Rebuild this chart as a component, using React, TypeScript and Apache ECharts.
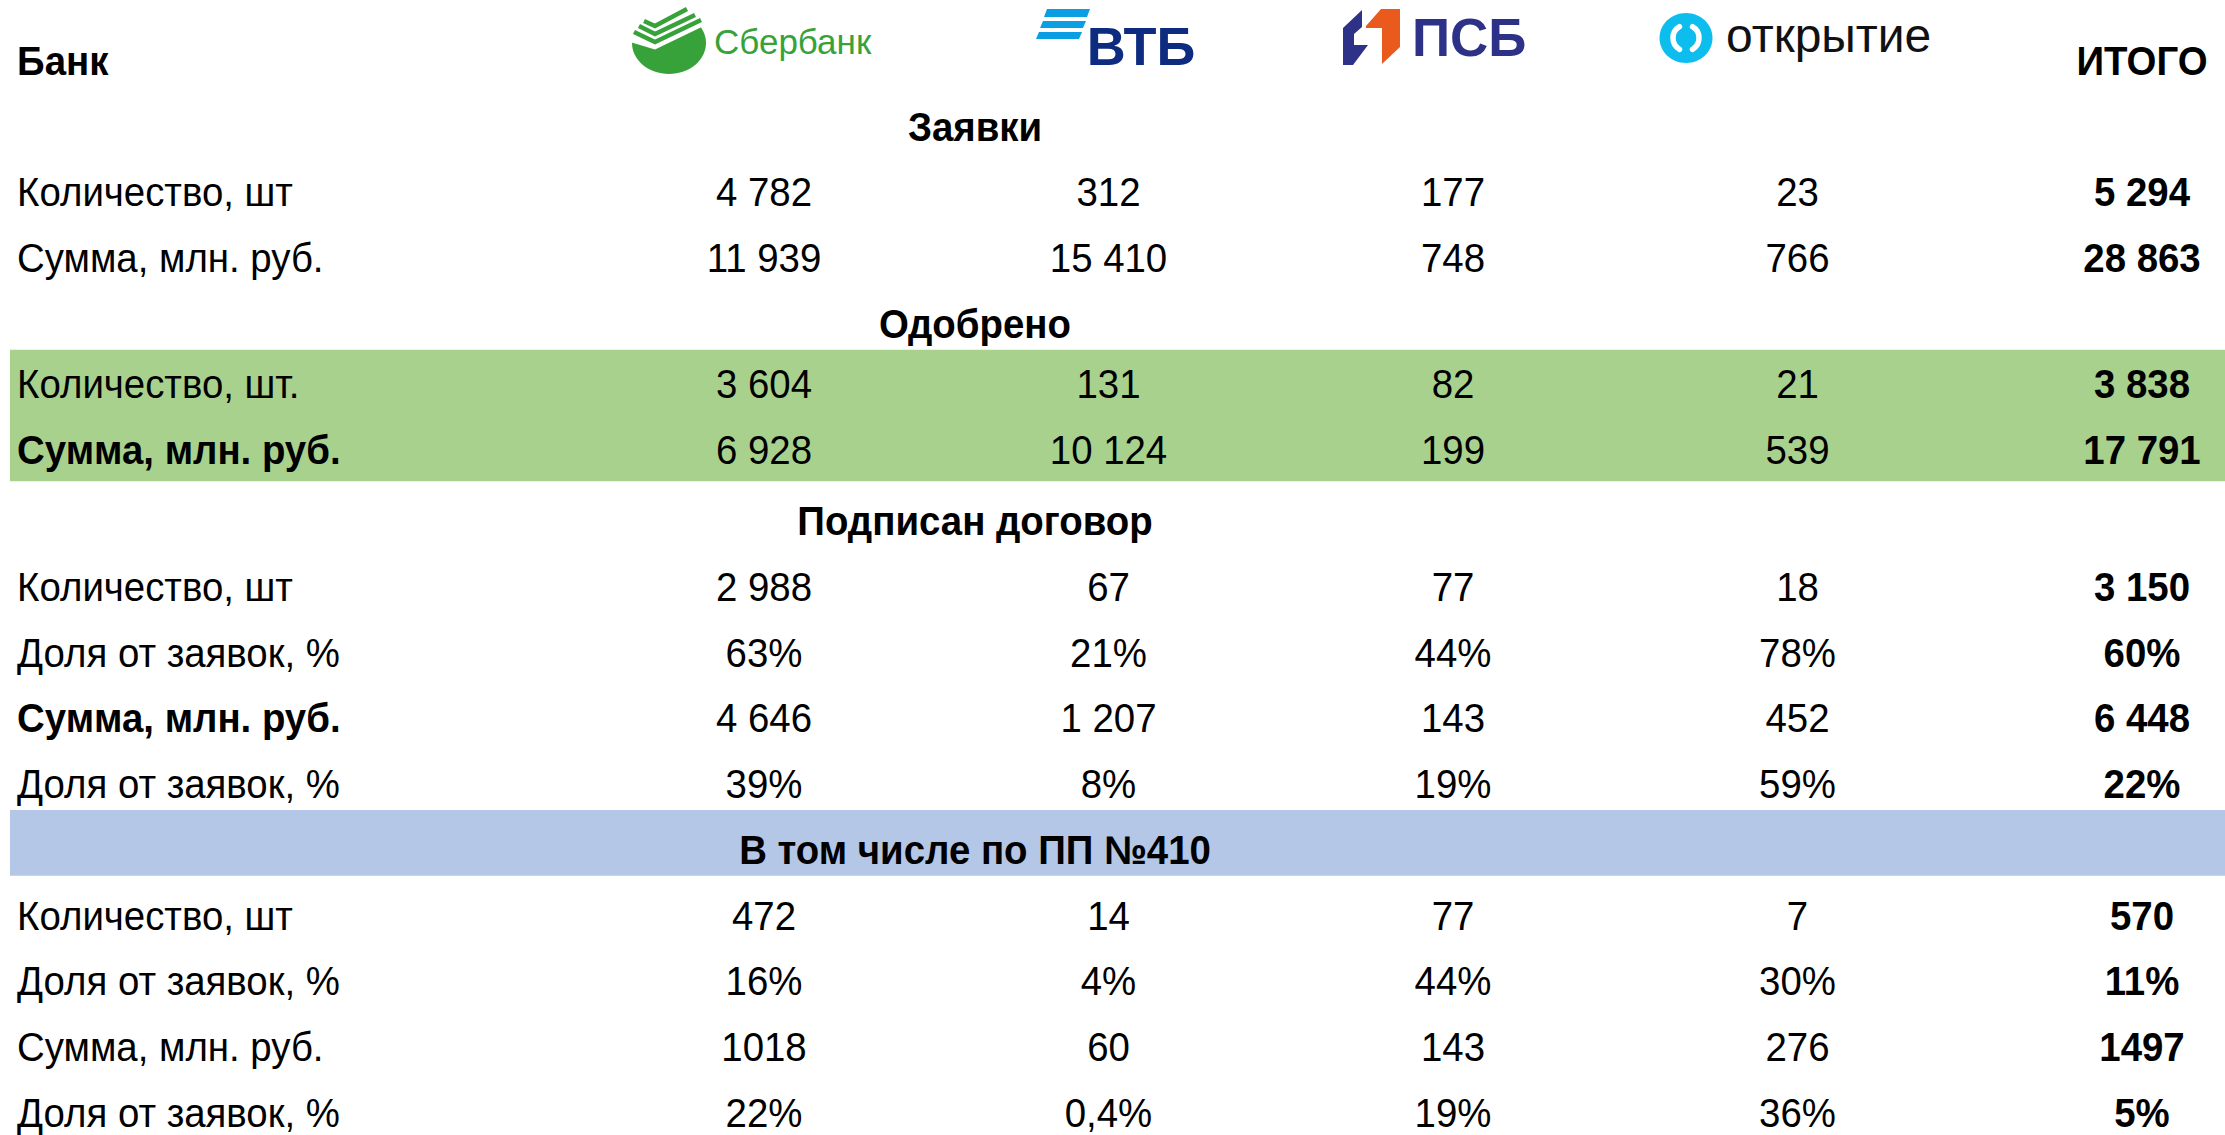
import React, { useEffect, useRef } from "react";
import * as echarts from "echarts";

// ---------- DATA ----------
const bankNames = ["Сбербанк", "ВТБ", "ПСБ", "открытие"];
const headerLabel = "Банк";
const totalLabel = "ИТОГО";
const sections = ["Заявки", "Одобрено", "Подписан договор", "В том числе по ПП №410"];

const labelCount = "Количество, шт";
const labelCountDot = "Количество, шт.";
const labelSum = "Сумма, млн. руб.";
const labelShare = "Доля от заявок, %";

// columns: Сбербанк, ВТБ, ПСБ, Открытие, ИТОГО
const zayavkiCount = [4782, 312, 177, 23, 5294];
const zayavkiSum = [11939, 15410, 748, 766, 28863];
const odobrenoCount = [3604, 131, 82, 21, 3838];
const odobrenoSum = [6928, 10124, 199, 539, 17791];
const dogovorCount = [2988, 67, 77, 18, 3150];
const dogovorCountShare = [63, 21, 44, 78, 60];
const dogovorSum = [4646, 1207, 143, 452, 6448];
const dogovorSumShare = [39, 8, 19, 59, 22];
const pp410Count = [472, 14, 77, 7, 570];
const pp410CountShare = [16, 4, 44, 30, 11];
const pp410Sum = [1018, 60, 143, 276, 1497];
const pp410SumShare = [22, 0.4, 19, 36, 5];

// ---------- helpers ----------
const fmtGroup = (v: number) => String(v).replace(/\B(?=(\d{3})+(?!\d))/g, " ");
const fmtPlain = (v: number) => String(v);
const fmtPct = (v: number) => String(v).replace(".", ",") + "%";

type Row =
  | { kind: "header" }
  | { kind: "section"; text: string; band?: string }
  | { kind: "data"; label: string; bold?: boolean; values: number[]; fmt: (v: number) => string; band?: string };

const GREEN = "#A9D18E";
const BLUE = "#B4C7E7";

const rows: Row[] = [
  { kind: "header" },
  { kind: "section", text: sections[0] },
  { kind: "data", label: labelCount, values: zayavkiCount, fmt: fmtGroup },
  { kind: "data", label: labelSum, values: zayavkiSum, fmt: fmtGroup },
  { kind: "section", text: sections[1] },
  { kind: "data", label: labelCountDot, values: odobrenoCount, fmt: fmtGroup, band: GREEN },
  { kind: "data", label: labelSum, bold: true, values: odobrenoSum, fmt: fmtGroup, band: GREEN },
  { kind: "section", text: sections[2] },
  { kind: "data", label: labelCount, values: dogovorCount, fmt: fmtGroup },
  { kind: "data", label: labelShare, values: dogovorCountShare, fmt: fmtPct },
  { kind: "data", label: labelSum, bold: true, values: dogovorSum, fmt: fmtGroup },
  { kind: "data", label: labelShare, values: dogovorSumShare, fmt: fmtPct },
  { kind: "section", text: sections[3], band: BLUE },
  { kind: "data", label: labelCount, values: pp410Count, fmt: fmtGroup },
  { kind: "data", label: labelShare, values: pp410CountShare, fmt: fmtPct },
  { kind: "data", label: labelSum, values: pp410Sum, fmt: fmtPlain },
  { kind: "data", label: labelShare, values: pp410SumShare, fmt: fmtPct },
];

const LABEL_X = -2.168;
const TITLE_X = 0.6125;
const BAND_ROW_SHIFT = -0.08;

type Cell = { x: number; y: number; text: string; bold: boolean; align: string };

function buildCells(): Cell[] {
  const cells: Cell[] = [];
  rows.forEach((r, i) => {
    if (r.kind === "header") {
      cells.push({ x: LABEL_X, y: i, text: headerLabel, bold: true, align: "left" });
      cells.push({ x: 4, y: i, text: totalLabel, bold: true, align: "center" });
    } else if (r.kind === "section") {
      cells.push({ x: TITLE_X, y: i, text: r.text, bold: true, align: "center" });
    } else {
      const yy = r.band ? i + BAND_ROW_SHIFT : i;
      cells.push({ x: LABEL_X, y: yy, text: r.label, bold: !!r.bold, align: "left" });
      r.values.forEach((v, c) => {
        cells.push({ x: c, y: yy, text: r.fmt(v), bold: c === 4, align: "center" });
      });
    }
  });
  return cells;
}

function buildBands() {
  const bands: { from: number; to: number; color: string }[] = [];
  rows.forEach((r, i) => {
    const band = (r as any).band;
    if (!band) return;
    const last = bands[bands.length - 1];
    if (last && last.color === band && last.to === i - 1) last.to = i;
    else bands.push({ from: i, to: i, color: band });
  });
  return bands;
}

const FONT = "'Liberation Sans', Arial, sans-serif";

function logos(): any[] {
  const sberGreen = "#38A23A";
  const vtbLight = "#0A9FE2";
  const vtbNavy = "#0D2C80";
  const psbNavy = "#2E3188";
  const psbOrange = "#EA5A1C";
  const otkr = "#0CBDEE";
  const el: any[] = [];
  // Sber
  el.push({ type: "ellipse", shape: { cx: 669, cy: 43, rx: 37, ry: 31 }, style: { fill: sberGreen } });
  el.push({
    type: "polygon",
    shape: { points: [[620, 0], [620, 39], [655, 49.5], [712, 22], [712, 0]] },
    style: { fill: "#fff" },
  });
  const stripes = [
    [[644, 21], [655, 26], [687, 9]],
    [[639, 26], [655, 34], [695, 15]],
    [[634, 32], [655, 42], [701, 20]],
  ];
  stripes.forEach((p) =>
    el.push({ type: "polyline", shape: { points: p }, style: { stroke: sberGreen, lineWidth: 4.5, fill: "none" } })
  );
  el.push({
    type: "text",
    x: 714,
    y: 41,
    style: { text: bankNames[0], font: `35px ${FONT}`, fill: sberGreen, align: "left", verticalAlign: "middle" },
  });
  // VTB
  const vs = [
    [1044, 9, 1087, 17],
    [1040, 21, 1083, 28],
    [1036, 32, 1079, 39],
  ];
  vs.forEach(([x0, y0, x1, y1]) =>
    el.push({
      type: "polygon",
      shape: { points: [[x0 + 3, y0], [x1 + 3, y0], [x1, y1], [x0, y1]] },
      style: { fill: vtbLight },
    })
  );
  el.push({
    type: "text",
    x: 1141,
    y: 45.5,
    style: { text: bankNames[1], font: `bold 54px ${FONT}`, fill: vtbNavy, align: "center", verticalAlign: "middle" },
  });
  // PSB
  el.push({
    type: "polygon",
    shape: { points: [[1343, 28], [1362, 10], [1362, 27], [1354, 34], [1354, 45], [1368, 45], [1353, 65], [1343, 65]] },
    style: { fill: psbNavy },
  });
  el.push({
    type: "polygon",
    shape: { points: [[1366, 26], [1381, 9], [1400, 9], [1400, 47], [1382, 64], [1382, 28], [1366, 28]] },
    style: { fill: psbOrange },
  });
  el.push({
    type: "text",
    x: 1412,
    y: 37,
    style: { text: bankNames[2], font: `bold 53px ${FONT}`, fill: psbNavy, align: "left", verticalAlign: "middle" },
  });
  // Otkritie
  el.push({ type: "ellipse", shape: { cx: 1686, cy: 38, rx: 26.5, ry: 25 }, style: { fill: otkr } });
  el.push({
    type: "arc",
    shape: { cx: 1686, cy: 38, r: 13, startAngle: -Math.PI / 3, endAngle: Math.PI / 3, clockwise: true },
    style: { stroke: "#fff", lineWidth: 5.5, lineCap: "round", fill: "none" },
  });
  el.push({
    type: "arc",
    shape: { cx: 1686, cy: 38, r: 13, startAngle: (2 * Math.PI) / 3, endAngle: (4 * Math.PI) / 3, clockwise: true },
    style: { stroke: "#fff", lineWidth: 5.5, lineCap: "round", fill: "none" },
  });
  el.push({
    type: "text",
    x: 1726,
    y: 35.5,
    style: { text: bankNames[3], font: `48px ${FONT}`, fill: "#111", align: "left", verticalAlign: "middle" },
  });
  return el;
}

export default function App() {
  const ref = useRef<HTMLDivElement>(null);
  useEffect(() => {
    document.body.style.margin = "0";
    document.body.style.overflow = "hidden";
    if (!ref.current) return;
    const chart = echarts.init(ref.current, undefined, { renderer: "svg" });
    const cells = buildCells();
    const bands = buildBands();
    chart.setOption({
      animation: false,
      backgroundColor: "#ffffff",
      grid: { left: 764, right: 83, top: 61, bottom: 22 },
      xAxis: { type: "value", min: 0, max: 4, show: false },
      yAxis: { type: "value", min: 0, max: 16, inverse: true, show: false },
      graphic: logos(),
      series: [
        {
          type: "custom",
          z: 1,
          clip: false,
          data: bands.map((b) => [b.from, b.to]),
          renderItem: (params: any, api: any) => {
            const b = bands[params.dataIndex];
            const top = api.coord([0, api.value(0) - 0.61])[1];
            const bottom = api.coord([0, api.value(1) + 0.39])[1];
            return {
              type: "rect",
              shape: { x: 10, y: top, width: 2225 - 10, height: bottom - top },
              style: { fill: b.color },
            };
          },
        },
        {
          type: "custom",
          z: 2,
          clip: false,
          data: cells.map((c) => [c.x, c.y]),
          renderItem: (params: any, api: any) => {
            const c = cells[params.dataIndex];
            const p = api.coord([api.value(0), api.value(1)]);
            return {
              type: "text",
              x: p[0],
              y: p[1],
              scaleX: 0.96,
              style: {
                text: c.text,
                font: `${c.bold ? "bold " : ""}40px ${FONT}`,
                fill: "#000",
                align: c.align,
                verticalAlign: "middle",
              },
            };
          },
        },
      ],
    });
    return () => chart.dispose();
  }, []);
  return <div ref={ref} style={{ width: 2225, height: 1135 }} />;
}
